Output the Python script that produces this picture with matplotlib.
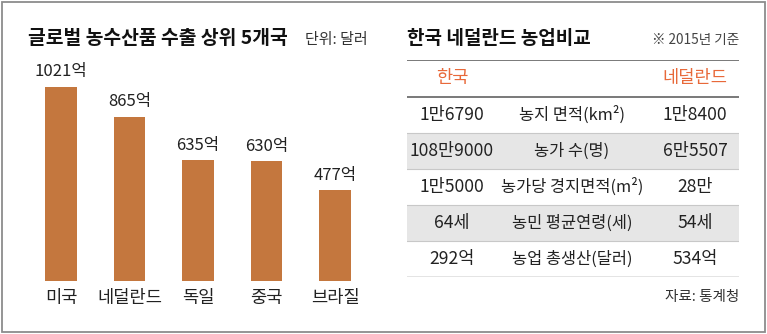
import matplotlib.pyplot as plt
from matplotlib.patches import Rectangle

plt.rcParams['font.family'] = ['Noto Sans CJK KR', 'DejaVu Sans']

# left chart data
countries = ['미국', '네덜란드', '독일', '중국', '브라질']
exports = [1021, 865, 635, 630, 477]  # 억 달러

# right table data
items = ['농지 면적(km²)', '농가 수(명)', '농가당 경지면적(m²)',
         '농민 평균연령(세)', '농업 총생산(달러)']
korea = ['1만6790', '108만9000', '1만5000', '64세', '292억']
netherlands = ['1만8400', '6만5507', '28만', '54세', '534억']

W, H = 767, 334
BAR = '#c4773e'
ORANGE = '#e8693a'
TXT = '#222222'


def fx(px):
    return px / W


def fy(py):
    return 1 - py / H


fig = plt.figure(figsize=(W / 100, H / 100), dpi=100)
fig.patch.set_facecolor('white')

# outer border
fig.patches.append(Rectangle((fx(1.5), fy(332)), fx(763.5), 330.5 / H,
                             transform=fig.transFigure, fill=False,
                             edgecolor='#8c8c8c', lw=1.3))

# ---- bar chart ----
left, right = 26.75, 369.25
bottom, top = 281, 53
ax = fig.add_axes([fx(left), fy(bottom), (right - left) / W, (bottom - top) / H])
x = range(len(countries))
ax.bar(x, exports, width=0.467, color=BAR)
ax.set_xlim(-0.5, 4.5)
ax.set_ylim(0, 1200)
ax.axis('off')
for i, v in enumerate(exports):
    ax.annotate(f'{v}억', (i, v), xytext=(0, 11), textcoords='offset points',
                ha='center', va='center', fontsize=12, color=TXT)
    ax.annotate(countries[i], (i, 0), xytext=(0, -12.5), textcoords='offset points',
                ha='center', va='center', fontsize=12.7, color=TXT)

fig.text(fx(28), fy(39), '글로벌 농수산품 수출 상위 5개국', fontsize=13.9,
         fontweight='bold', color='#111111', ha='left', va='center')
fig.text(fx(305), fy(40), '단위: 달러', fontsize=10.8, color='#333333',
         ha='left', va='center')

# ---- comparison table ----
tx0, tx1, ty0, ty1 = 407, 739, 60, 277
tab = fig.add_axes([fx(tx0), fy(ty1), (tx1 - tx0) / W, (ty1 - ty0) / H])
row_h = 36
head = (97 - 60) / row_h
tab.set_xlim(0, 1)
tab.set_ylim(len(items), -head)
tab.axis('off')

colx = [(452 - tx0) / (tx1 - tx0), (572 - tx0) / (tx1 - tx0),
        (695 - tx0) / (tx1 - tx0)]

for i in range(len(items)):
    if i % 2 == 1:
        tab.axhspan(i, i + 1, color='#e6e6e6', lw=0, zorder=0)
    if i > 0:
        tab.axhline(i, color='#c8c8c8', lw=0.8, zorder=1)
    tab.text(colx[0], i + 0.5, korea[i], ha='center', va='center',
             fontsize=12.6, color=TXT)
    tab.text(colx[1], i + 0.5, items[i], ha='center', va='center',
             fontsize=11.8, color=TXT)
    tab.text(colx[2], i + 0.5, netherlands[i], ha='center', va='center',
             fontsize=12.6, color=TXT)

tab.axhline(-head, color='#555555', lw=1.1)
tab.axhline(0, color='#555555', lw=1.1)
tab.axhline(len(items), color='#777777', lw=1.0)
tab.text(colx[0], -head / 2, '한국', ha='center', va='center',
         fontsize=12.7, color=ORANGE)
tab.text(colx[2], -head / 2, '네덜란드', ha='center', va='center',
         fontsize=12.7, color=ORANGE)

fig.text(fx(407), fy(38), '한국 네덜란드 농업비교', fontsize=13.7,
         fontweight='bold', color='#111111', ha='left', va='center')
fig.text(fx(739), fy(40), '※ 2015년 기준', fontsize=9.8, color='#444444',
         ha='right', va='center')
fig.text(fx(739), fy(297), '자료: 통계청', fontsize=10.5, color='#333333',
         ha='right', va='center')

fig.savefig('out.png', dpi=100, facecolor='white')
